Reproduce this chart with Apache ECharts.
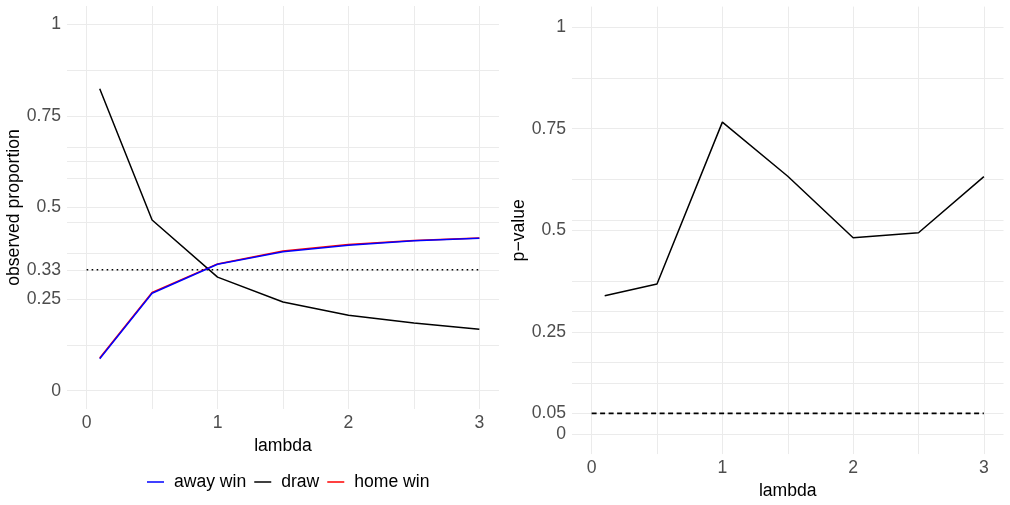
<!DOCTYPE html>
<html>
<head>
<meta charset="utf-8">
<title>observed proportion / p-value vs lambda</title>
<script src="https://cdn.jsdelivr.net/npm/echarts@6/dist/echarts.min.js"></script>
<style>
  html, body { margin: 0; padding: 0; background: #fff; }
  #chart { width: 1010px; height: 505px; }
</style>
</head>
<body>
<div id="chart"></div>
<script>
// ---------- data ----------
const lambda = [0.1, 0.5, 1, 1.5, 2, 2.5, 3]

// left panel: observed proportion
const awayWin = [0.087, 0.266, 0.345, 0.379, 0.397, 0.409, 0.416]
const draw = [0.824, 0.466, 0.310, 0.242, 0.206, 0.185, 0.168]
const homeWin = [0.089, 0.268, 0.346, 0.381, 0.399, 0.410, 0.417]

// right panel: p-value
const pValue = [0.339, 0.368, 0.766, 0.633, 0.482, 0.494, 0.632]

// reference lines
const refSpan = [0, 3]
const refProportion = 0.33
const refAlpha = 0.05

// tick labels and grid lines
const xTicks = [0, 1, 2, 3]
const xGrid = [0, 0.5, 1, 1.5, 2, 2.5, 3]
const yTicksLeft = [0, 0.25, 0.33, 0.5, 0.75, 1]
const yGridLeft = [0, 0.125, 0.25, 0.33, 0.375, 0.46, 0.5, 0.58, 0.625, 0.665, 0.75, 0.875, 1]
const yTicksRight = [0, 0.05, 0.25, 0.5, 0.75, 1]
const yGridRight = [0, 0.05, 0.125, 0.175, 0.25, 0.3, 0.375, 0.5, 0.525, 0.625, 0.75, 0.875, 1]

const FONT = '"Liberation Sans", Arial, Helvetica, sans-serif'
const FS = 17.6
const GRID_COLOR = '#ebebeb'

const pairs = (xs, ys) => xs.map((x, i) => [x, ys[i]])
const refLine = (y) => refSpan.map(x => [x, y])

/**
 * 数值轴：自定义刻度位置，网格线跟随刻度
 */
function valueAxis (gridIndex, min, max, labels, grid, name, nameGap, margin) {
  return {
    type: 'value',
    gridIndex: gridIndex,
    min: min,
    max: max,
    name: name,
    nameGap: nameGap,
    nameLocation: 'middle',
    nameTextStyle: { color: '#000', fontFamily: FONT, fontSize: FS },
    axisLine: { show: false },
    axisTick: { show: false, customValues: grid },
    axisLabel: {
      customValues: labels,
      color: '#4d4d4d',
      fontFamily: FONT,
      fontSize: FS,
      margin: margin
    },
    splitLine: { show: true, lineStyle: { color: GRID_COLOR, width: 1 } }
  }
}

const chart = echarts.init(document.getElementById('chart'), null, { renderer: 'canvas' })

const option = {
  backgroundColor: '#fff',
  animation: false,
  textStyle: { fontFamily: FONT },
  grid: [
    { left: 67, top: 6, width: 432, height: 403 },
    { left: 572, top: 6.6, width: 431.5, height: 448.8 }
  ],
  xAxis: [
    valueAxis(0, -0.15, 3.15, xTicks, xGrid, 'lambda', 24, 5),
    valueAxis(1, -0.15, 3.15, xTicks, xGrid, 'lambda', 24, 5)
  ],
  yAxis: [
    valueAxis(0, -0.05, 1.05, yTicksLeft, yGridLeft, 'observed proportion', 43, 6),
    valueAxis(1, -0.05, 1.05, yTicksRight, yGridRight, 'p\u2212value', 44, 6)
  ],
  legend: {
    data: ['away win', 'draw', 'home win'],
    icon: 'rect',
    left: 142,
    top: 468,
    itemWidth: 17,
    itemHeight: 1.5,
    itemGap: 8,
    formatter: name => ' ' + name,
    textStyle: { color: '#000', fontFamily: FONT, fontSize: FS }
  },
  series: [
    {
      name: 'reference 0.33',
      type: 'line',
      xAxisIndex: 0,
      yAxisIndex: 0,
      data: refLine(refProportion),
      symbol: 'none',
      silent: true,
      lineStyle: { color: '#000', width: 1.6, type: [1.6, 3.4] }
    },
    {
      name: 'home win',
      type: 'line',
      xAxisIndex: 0,
      yAxisIndex: 0,
      data: pairs(lambda, homeWin),
      symbol: 'none',
      color: '#ff0000',
      lineStyle: { color: '#ff0000', width: 1.5 }
    },
    {
      name: 'draw',
      type: 'line',
      xAxisIndex: 0,
      yAxisIndex: 0,
      data: pairs(lambda, draw),
      symbol: 'none',
      color: '#000',
      lineStyle: { color: '#000', width: 1.5 }
    },
    {
      name: 'away win',
      type: 'line',
      xAxisIndex: 0,
      yAxisIndex: 0,
      data: pairs(lambda, awayWin),
      symbol: 'none',
      color: '#0000ff',
      lineStyle: { color: '#0000ff', width: 1.5 }
    },
    {
      name: 'reference 0.05',
      type: 'line',
      xAxisIndex: 1,
      yAxisIndex: 1,
      data: refLine(refAlpha),
      symbol: 'none',
      silent: true,
      lineStyle: { color: '#000', width: 1.6, type: [5, 3.5] }
    },
    {
      name: 'p-value',
      type: 'line',
      xAxisIndex: 1,
      yAxisIndex: 1,
      data: pairs(lambda, pValue),
      symbol: 'none',
      color: '#000',
      lineStyle: { color: '#000', width: 1.5 }
    }
  ]
}

chart.setOption(option)
</script>
</body>
</html>
